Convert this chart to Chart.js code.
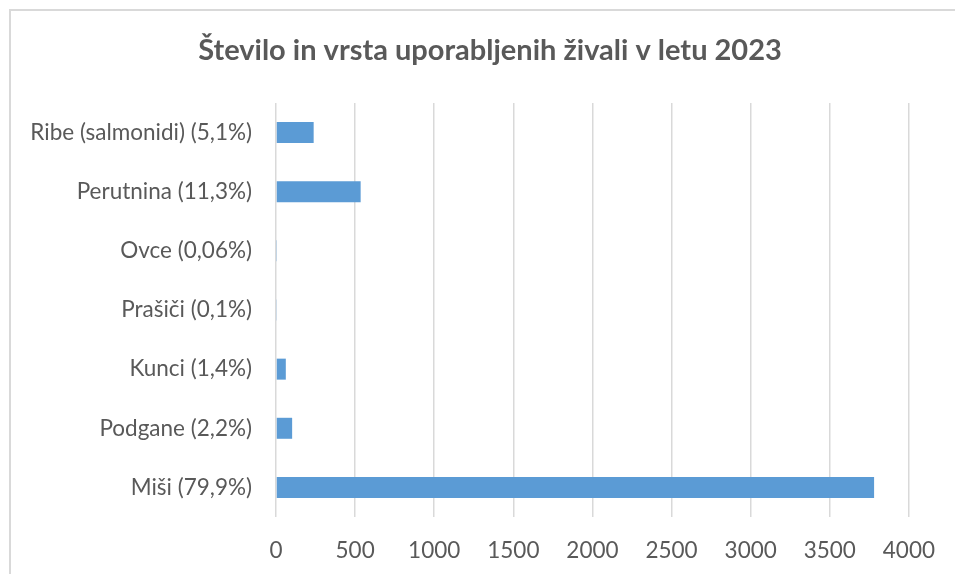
<!DOCTYPE html>
<html>
<head>
<meta charset="utf-8">
<script src="https://cdn.jsdelivr.net/npm/chart.js@4"></script>
<style>
    html, body { margin: 0; padding: 0; background: #fff; }
    #wrap { position: relative; width: 955px; height: 574px; overflow: hidden; }
    #frame { position: absolute; left: 9px; top: 9px; width: 960px; height: 580px;
             border-left: 2px solid #d9d9d9; border-top: 2px solid #d9d9d9; }
    canvas { position: absolute; left: 0; top: 0; }
</style>
</head>
<body>
<div id="wrap">
    <div id="frame"></div>
    <canvas id="myChart" width="955" height="574"></canvas>
</div>
<script>
// categories, top to bottom as in the picture
const categories = [
    'Ribe (salmonidi) (5,1%)',
    'Perutnina (11,3%)',
    'Ovce (0,06%)',
    'Prašiči (0,1%)',
    'Kunci (1,4%)',
    'Podgane (2,2%)',
    'Miši (79,9%)'
];
// number of animals
const animalCounts = [238, 535, 3, 6, 62, 102, 3780];
const xTicks = [0, 500, 1000, 1500, 2000, 2500, 3000, 3500, 4000];

const chartTitle = 'Število in vrsta uporabljenih živali v letu 2023';
const textColor = '#595959';

// title is centred on the whole frame, not on the plot area
const titlePlugin = {
    id: 'frameTitle',
    afterDraw(chart) {
        const c = chart.ctx;
        c.save();
        c.fillStyle = textColor;
        c.font = 'bold 29px Lato';
        c.textAlign = 'center';
        c.textBaseline = 'middle';
        c.fillText(chartTitle, 490, 51);
        c.restore();
    }
};

document.addEventListener('DOMContentLoaded', function () {
    const ctx = document.getElementById('myChart').getContext('2d');

    new Chart(ctx, {
        type: 'bar',
        data: {
            labels: categories,
            datasets: [{
                label: 'Število živali',
                data: animalCounts,
                backgroundColor: '#5b9bd5',
                borderWidth: 0,
                barPercentage: 0.355,
                categoryPercentage: 1
            }]
        },
        options: {
            indexAxis: 'y',
            responsive: false,
            animation: false,
            layout: { padding: { left: 0, right: 43, top: 103, bottom: 0 } },
            plugins: {
                legend: { display: false },
                tooltip: { enabled: false },
                title: { display: false }
            },
            scales: {
                x: {
                    min: 0,
                    max: 4000,
                    afterBuildTicks: function (scale) {
                        scale.ticks = xTicks.map(v => ({ value: v }));
                    },
                    afterFit: function (scale) { scale.height = 57; },
                    grid: { color: '#d9d9d9', lineWidth: 1.5, drawTicks: false },
                    border: { display: false },
                    ticks: {
                        color: textColor,
                        padding: 20,
                        font: { family: 'Lato', size: 22.5 },
                        callback: value => String(value)
                    }
                },
                y: {
                    afterFit: function (scale) { scale.width = 276; },
                    grid: { display: false, drawTicks: false },
                    border: { display: false },
                    ticks: {
                        color: textColor,
                        padding: 24,
                        font: { family: 'Lato', size: 22.5 }
                    }
                }
            }
        },
        plugins: [titlePlugin]
    });
});
</script>
</body>
</html>
